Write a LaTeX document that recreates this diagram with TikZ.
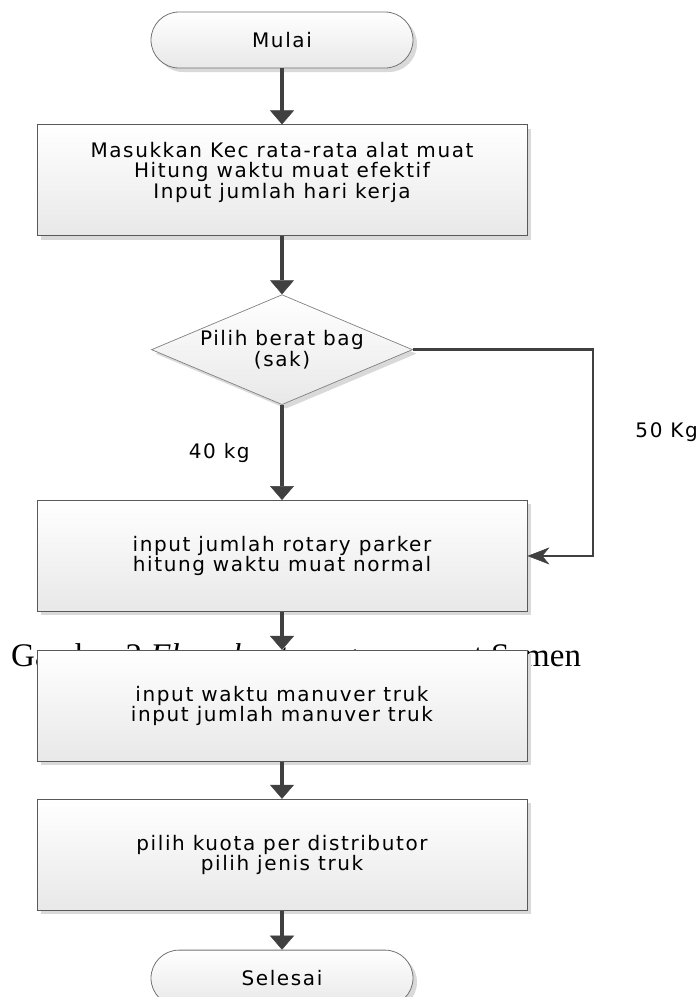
\documentclass[tikz,border=0pt]{standalone}
\usepackage{fontspec}
\setmainfont{DejaVu Sans}[LetterSpace=8]
\newfontfamily\captionserif{Liberation Serif}
\usetikzlibrary{arrows.meta,positioning,shapes.geometric,shadows}
\definecolor{arrowgray}{HTML}{404040}
\definecolor{edgegray}{HTML}{595959}
\definecolor{shadowgray}{HTML}{D9D9D9}

\begin{document}
\begin{tikzpicture}[x=1pt,y=1pt,
  every node/.style={font=\fontsize{20}{20.5}\selectfont},
  boxshadow/.style={drop shadow={shadow xshift=4pt,shadow yshift=-4pt,
    fill=shadowgray,opacity=1}},
  process/.style={rectangle,draw=edgegray,line width=0.9pt,top color=white,
    bottom color=black!9,minimum width=490pt,minimum height=111pt,
    align=center,inner sep=0pt,boxshadow},
  terminal/.style={rectangle,rounded corners=28pt,draw=black!55,line width=0.8pt,
    top color=white,bottom color=black!9,minimum width=262pt,
    minimum height=56pt,boxshadow},
  decision/.style={diamond,aspect=2.4,inner sep=-8pt,draw=black!50,
    line width=0.7pt,top color=white,bottom color=black!9,minimum width=261pt,
    minimum height=110pt,align=center,boxshadow},
  captiontext/.style={inner sep=0pt,anchor=base west,
    font=\captionserif\fontsize{33}{38}\selectfont},
  flow/.style={draw=arrowgray,line width=4pt,
    -{Triangle[width=24pt,length=14pt,line width=0.5pt]}},
  branch/.style={draw=arrowgray,line width=2.6pt,
    -{Stealth[width=17pt,length=22pt,inset=7pt,line width=0.5pt]}}
]
\useasboundingbox (0,0) rectangle (698,-997);
\node[terminal] (mulai) at (282,-40) {Mulai};
\node[process,below=56pt of mulai] (inputkec) {Masukkan Kec rata-rata alat muat\\
  Hitung waktu muat efektif\\Input jumlah hari kerja\\\mbox{}};
\node[decision,below=58pt of inputkec] (pilihbag) {Pilih berat bag\\(sak)};
\node[process,below=95pt of pilihbag] (rotary) {input jumlah rotary parker\\
  hitung waktu muat normal};
% caption lies behind the next box
\node[captiontext] (caption) at (11,-666) {Gambar 2 \textit{Flowchart} program muat Semen};
\node[process,below=38pt of rotary] (manuver) {input waktu manuver truk\\
  input jumlah manuver truk};
\node[process,below=37pt of manuver] (kuota) {pilih kuota per distributor\\
  pilih jenis truk};
\node[terminal,below=39pt of kuota] (selesai) {Selesai};

\draw[flow] (mulai) -- (inputkec);
\draw[flow] (inputkec) -- (pilihbag);
\draw[flow] (pilihbag) -- node[left=27pt] {40 kg} (rotary);
\draw[branch] (pilihbag.east) -- ++(180,0) |- node[pos=0.2,right=38pt] {50 Kg} (rotary.east);
\draw[flow] (rotary) -- (manuver);
\draw[flow] (manuver) -- (kuota);
\draw[flow] (kuota) -- (selesai);
\end{tikzpicture}
\end{document}
